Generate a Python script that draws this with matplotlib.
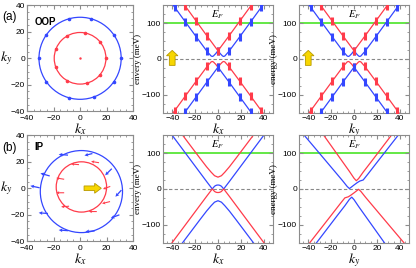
import numpy as np
import matplotlib
matplotlib.use("Agg")
import matplotlib.pyplot as plt
from matplotlib.patches import Circle, FancyArrow
from matplotlib.ticker import AutoMinorLocator

plt.rcParams['font.family'] = ['Liberation Sans', 'DejaVu Sans']
plt.rcParams['mathtext.fontset'] = 'stix'

BLUE = '#3447ff'
RED = '#ff3b4a'
GREEN = '#63e845'
YELLOW = '#f7d600'

# ---- (a) out-of-plane: Fermi circles ----
r_red_a = 19.5
r_blue_a = 31.0
dot_angles_red = [0, 40, 80, 120, 160, 200, 240, 285, 320]
dot_angles_blue = [0, 35, 75, 105, 145, 180, 215, 255, 290, 325]

# ---- (a) out-of-plane bands (same along kx and ky) ----
k_a = [-48, -38, -28.5, -19, -9.5, -6, -5, -4, -2, 0, 2, 4, 5, 6, 9.5, 19, 28.5, 38, 48]
blue_up_a = [189.3, 145.4, 103.6, 62.0, 21.0, 8.3, 7.0, 8.3, 14.9, 23.1, 14.9, 8.3, 7.0, 8.3, 21.0, 62.0, 103.6, 145.4, 189.3]
red_up_a = [233.3, 189.3, 147.5, 105.8, 63.9, 48.9, 44.6, 40.3, 31.6, 23.1, 31.6, 40.3, 44.6, 48.9, 63.9, 105.8, 147.5, 189.3, 233.3]
red_low_a = [-189.3, -145.4, -103.6, -62.0, -21.0, -8.3, -7.0, -8.3, -14.9, -23.1, -14.9, -8.3, -7.0, -8.3, -21.0, -62.0, -103.6, -145.4, -189.3]
blue_low_a = [-233.3, -189.3, -147.5, -105.8, -63.9, -48.9, -44.6, -40.3, -31.6, -23.1, -31.6, -40.3, -44.6, -48.9, -63.9, -105.8, -147.5, -189.3, -233.3]
spin_marks = [1, 2, 3, 4, 9, 14, 15, 16, 17]

# ---- (b) in-plane: Fermi circles and spin arrows ----
red_center_b = (1.0, 1.0)
r_red_b = 19.0
blue_center_b = (1.0, -2.5)
r_blue_b = 31.0
red_arr_x = [-3.8, 11.3, -15.0, -15.0, -11.3, 9.6, 19.6, 20.0]
red_arr_y = [18.1, 19.8, 7.3, -3.4, -13.8, -17.6, -10.8, 0.4]
red_arr_u = [-6.0, -6.0, -6.0, -6.0, -6.0, -6.0, -6.0, -5.5]
red_arr_v = [0.5, 1.0, 1.0, 0.0, -0.5, 0.0, -1.5, -2.0]
blue_arr_x = [-12.6, 6.3, -26.4, -34.0, -27.7, -12.6, 7.5, 26.4, 28.9, 21.4]
blue_arr_y = [25.3, 25.5, 10.3, 1.1, -18.8, -31.8, -32.5, -21.3, -3.9, 12.3]
blue_arr_u = [-7.0, -6.0, -7.0, -7.0, -7.0, -7.0, -7.0, -6.5, -4.5, -5.0]
blue_arr_v = [0.5, -1.5, 2.0, 1.5, 0.5, 0.5, -0.5, -2.5, -5.0, -5.0]

# ---- (b) in-plane bands along kx ----
k_bx = [-48, -40, -32, -24, -16, -10, -6, -3, 0, 3, 6, 10, 16, 24, 32, 40, 48]
red_up_bx = [223, 189, 155, 121, 87, 62, 47, 37, 33, 37, 47, 62, 87, 121, 155, 189, 223]
blue_low_bx = [-223, -189, -155, -121, -87, -62, -47, -37, -33, -37, -47, -62, -87, -121, -155, -189, -223]
k_mid_bx = [-48, -40, -30, -20, -10, -5, -3, -2, -1, 0, 1, 2, 3, 5, 10, 20, 30, 40, 48]
blue_mid_bx = [184, 150, 107, 64, 21, 0, 7.5, 9.5, 10.7, 11, 10.7, 9.5, 7.5, 0, 21, 64, 107, 150, 184]
red_mid_bx = [-184, -150, -107, -64, -21, 0, -7, -8.8, -9.8, -10, -9.8, -8.8, -7, 0, -21, -64, -107, -150, -184]

# ---- (b) in-plane bands along ky ----
k_blue_up_by = [-48, -44, -30, -20, -10, -6, -4, -2, 0, 3, 5, 8, 12, 20, 30, 40, 48]
blue_up_by = [167, 152, 99, 61, 23, 7, 1, 6, 11, 18, 22, 25, 41, 74, 115, 156, 189]
k_red_up_by = [-48, -30, -20, -10, -4, 0, 2, 4, 8, 15, 25, 35, 48]
red_up_by = [247, 166, 121, 76, 49, 30, 23, 29, 47, 76, 118, 160, 215]
k_red_low_by = [-48, -40, -30, -20, -12, -8, -5, -3, 0, 2, 4, 6, 10, 20, 30, 44, 48]
red_low_by = [-189, -156, -115, -74, -41, -25, -22, -18, -11, -6, -1, -7, -23, -61, -99, -152, -167]
k_blue_low_by = [-48, -35, -25, -15, -8, -4, -2, 0, 4, 10, 20, 30, 48]
blue_low_by = [-215, -160, -118, -76, -47, -29, -23, -30, -49, -76, -121, -166, -247]

E_F = 100

fig = plt.figure(figsize=(4.16, 2.68), dpi=100)


def style(ax):
    for s in ax.spines.values():
        s.set_color('#8c8c8c')
        s.set_linewidth(0.8)
    ax.tick_params(which='both', direction='in', top=True, right=True,
                   color='#8c8c8c', labelsize=6, pad=1.5)
    ax.tick_params(which='major', length=3)
    ax.tick_params(which='minor', length=1.5)
    ax.xaxis.set_minor_locator(AutoMinorLocator(4))
    ax.yaxis.set_minor_locator(AutoMinorLocator(4))


def fermi_axes(rect):
    ax = fig.add_axes(rect)
    ax.set_xlim(-40, 40)
    ax.set_ylim(-40, 40)
    ax.set_xticks([-40, -20, 0, 20, 40])
    ax.set_yticks([-40, -20, 0, 20, 40])
    ax.set_xlabel('$k_x$', fontsize=10, labelpad=-0.5)
    ax.set_ylabel('$k_y$', fontsize=10, rotation=0, labelpad=3, va='center')
    style(ax)
    ax.tick_params(axis='x', pad=2.8)
    return ax


def band_axes(rect, xlab, ylab):
    ax = fig.add_axes(rect)
    ax.set_xlim(-48, 48)
    ax.set_ylim(-150, 150)
    ax.set_xticks([-40, -20, 0, 20, 40])
    ax.set_yticks([-100, 0, 100])
    ax.axhline(0, color='#888888', lw=0.8, ls=(0, (3, 2)), zorder=1)
    ax.axhline(E_F, color=GREEN, lw=1.4, zorder=1)
    ax.text(0, 125, '$E_F$', fontsize=7.5, ha='center', va='center')
    ax.set_xlabel(xlab, fontsize=10, labelpad=-0.5)
    ax.set_ylabel(ylab, fontsize=6.5, family='Liberation Serif', labelpad=0)
    style(ax)
    return ax


# ---------- row (a) ----------
ax = fermi_axes([0.065, 0.585, 0.255, 0.395])
ax.add_patch(Circle((0, 0), r_blue_a, fill=False, ec=BLUE, lw=0.9))
ax.add_patch(Circle((0, 0), r_red_a, fill=False, ec=RED, lw=0.9))
th = np.deg2rad(dot_angles_blue)
ax.plot(r_blue_a * np.cos(th), r_blue_a * np.sin(th), 'o', color=BLUE, ms=1.6)
th = np.deg2rad(dot_angles_red)
ax.plot(r_red_a * np.cos(th), r_red_a * np.sin(th), 'o', color=RED, ms=1.6)
ax.plot([0], [0], '.', color=RED, ms=1.5)
ax.text(0.07, 0.84, 'OOP', transform=ax.transAxes, fontsize=7,
        fontweight='bold', va='center')
fig.text(0.005, 0.925, '(a)', fontsize=8.5)

for rect, xlab, ylab in [([0.392, 0.58, 0.264, 0.40], '$k_x$', 'envery (meV)'),
                         ([0.719, 0.58, 0.264, 0.40], '$k_y$', 'energy (meV)')]:
    ax = band_axes(rect, xlab, ylab)
    for e, c in [(blue_up_a, BLUE), (red_up_a, RED), (red_low_a, RED), (blue_low_a, BLUE)]:
        ax.plot(k_a, e, color=c, lw=0.9, marker='|', ms=6, mew=2.2,
                markevery=spin_marks, zorder=3)
    ax.add_patch(FancyArrow(-40, -18, 0, 42, width=5, head_width=10,
                            head_length=15, length_includes_head=True,
                            fc=YELLOW, ec='#b89a00', lw=0.6, zorder=4))

# ---------- row (b) ----------
ax = fermi_axes([0.065, 0.1, 0.255, 0.395])
ax.add_patch(Circle(blue_center_b, r_blue_b, fill=False, ec=BLUE, lw=0.9))
ax.add_patch(Circle(red_center_b, r_red_b, fill=False, ec=RED, lw=0.9))
ax.quiver(blue_arr_x, blue_arr_y, blue_arr_u, blue_arr_v, color=BLUE,
          angles='xy', scale_units='xy', scale=1, pivot='mid',
          width=0.012, headwidth=3, headlength=3, headaxislength=2.5)
ax.quiver(red_arr_x, red_arr_y, red_arr_u, red_arr_v, color=RED,
          angles='xy', scale_units='xy', scale=1, pivot='mid',
          width=0.010, headwidth=3, headlength=3, headaxislength=2.5)
ax.add_patch(FancyArrow(3, 0, 13, 0, width=3.5, head_width=7.5,
                        head_length=5, length_includes_head=True,
                        fc=YELLOW, ec='#b89a00', lw=0.6, zorder=4))
ax.text(0.07, 0.89, 'IP', transform=ax.transAxes, fontsize=7,
        fontweight='bold', va='center')
fig.text(0.005, 0.435, '(b)', fontsize=8.5)

ax = band_axes([0.392, 0.095, 0.264, 0.40], '$k_x$', 'envery (meV)')
ax.plot(k_bx, red_up_bx, color=RED, lw=0.9)
ax.plot(k_bx, blue_low_bx, color=BLUE, lw=0.9)
ax.plot(k_mid_bx, blue_mid_bx, color=BLUE, lw=0.9)
ax.plot(k_mid_bx, red_mid_bx, color=RED, lw=0.9)

ax = band_axes([0.719, 0.095, 0.264, 0.40], '$k_y$', 'energy (meV)')
ax.plot(k_blue_up_by, blue_up_by, color=BLUE, lw=0.9)
ax.plot(k_red_up_by, red_up_by, color=RED, lw=0.9)
ax.plot(k_red_low_by, red_low_by, color=RED, lw=0.9)
ax.plot(k_blue_low_by, blue_low_by, color=BLUE, lw=0.9)

fig.savefig('out.png', dpi=100)
